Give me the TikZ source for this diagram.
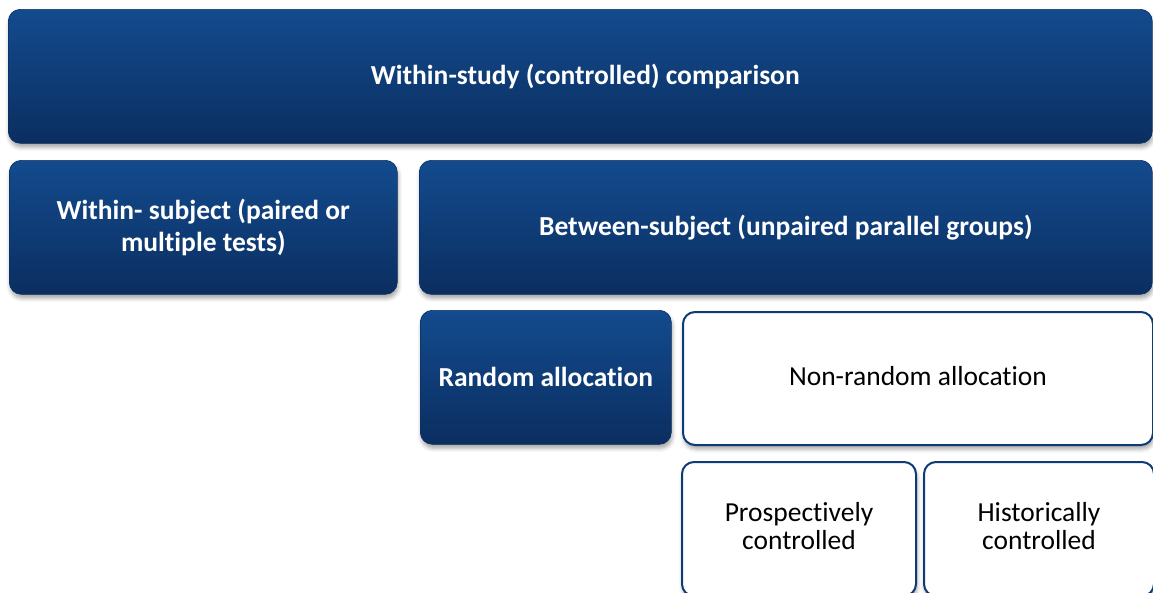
\documentclass[tikz,border=0pt]{standalone}
\usepackage{fontspec}
\setmainfont{Carlito}
\usetikzlibrary{shadows.blur}
\definecolor{boxtop}{HTML}{134B8E}
\definecolor{boxbot}{HTML}{0B2E60}
\definecolor{boxline}{HTML}{0E3A75}
% keep "t" and "i" as separate glyphs
\newcommand\tisep{t\kern0pt i}
\tikzset{
  base/.style={rounded corners=12pt, anchor=north west, inner sep=0pt, align=center,
    blur shadow={shadow xshift=1pt, shadow yshift=-4pt, shadow blur radius=4pt, shadow opacity=35}},
  darkbox/.style={base, top color=boxtop, bottom color=boxbot, draw=boxbot, line width=0.6pt,
    text=white, font=\fontsize{27.5}{32}\selectfont\bfseries},
  lightbox/.style={base, fill=white, draw=boxline, line width=2pt},
  lighttext/.style={align=center, inner sep=0pt, text=black, font=\fontsize{27.5}{28.5}\selectfont},
}
\begin{document}
\begin{tikzpicture}
\useasboundingbox (0,0) rectangle (1153pt,-592pt);
\clip (0,0) rectangle (1153pt,-592pt);
% top level
\node[darkbox, minimum width=1144pt, minimum height=134pt] (study) at (8pt,-9pt)
  {\hspace*{10pt}\raisebox{-2pt}{Within-study (controlled) comparison}};
% second level
\node[darkbox, minimum width=388pt, minimum height=134pt] (within) at (9pt,-160pt)
  {Within- subject (paired or\\mul\tisep ple tests)};
\node[darkbox, minimum width=733pt, minimum height=134pt] (between) at (419pt,-160pt)
  {Between-subject (unpaired parallel groups)};
% allocation
\node[darkbox, minimum width=251pt, minimum height=134pt] (random) at (420pt,-310pt)
  {Random alloca\tisep on};
\node[lightbox, minimum width=470pt, minimum height=133pt] (nonrandom) at (682pt,-311pt) {};
\node[lighttext] (nonrandom-t) at ([yshift=2pt]nonrandom.center) {Non-random alloca\tisep on};
% controls
\node[lightbox, minimum width=234pt, minimum height=134pt] (prosp) at (681pt,-461pt) {};
\node[lighttext] (prosp-t) at ([yshift=3pt]prosp.center) {Prospec\tisep vely\\controlled};
\node[lightbox, minimum width=230pt, minimum height=134pt] (hist) at (923pt,-461pt) {};
\node[lighttext] (hist-t) at ([yshift=3pt]hist.center) {Historically\\controlled};
\end{tikzpicture}
\end{document}
